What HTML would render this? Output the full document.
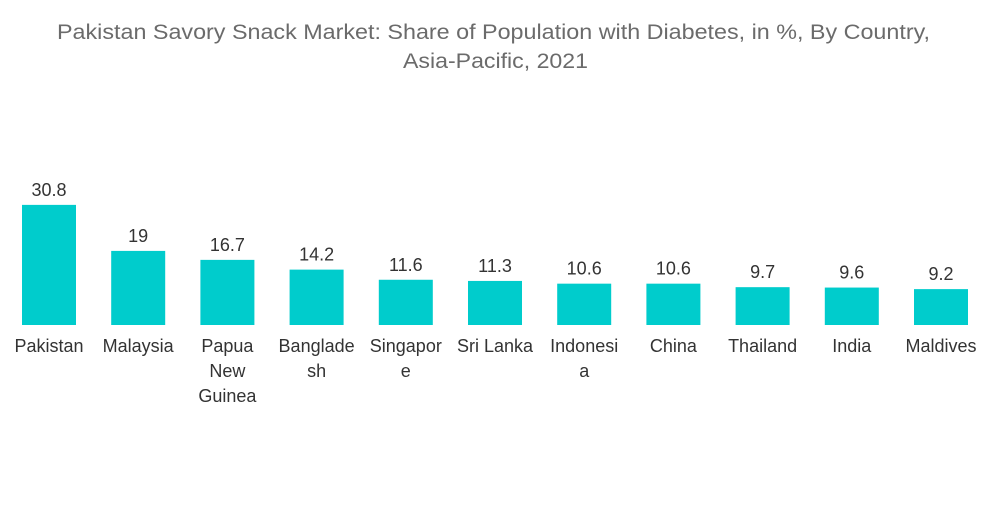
<!DOCTYPE html>
<html><head><meta charset="utf-8"><style>
body{margin:0;background:#fff;width:1000px;height:504px;overflow:hidden;font-family:"Liberation Sans",sans-serif;}
</style></head><body>
<svg width="1000" height="504">
<text x="57" y="39" textLength="873" lengthAdjust="spacingAndGlyphs" font-size="21" fill="#6b6b6b">Pakistan Savory Snack Market: Share of Population with Diabetes, in %, By Country,</text>
<text x="403" y="68" textLength="185" lengthAdjust="spacingAndGlyphs" font-size="21" fill="#6b6b6b">Asia-Pacific, 2021</text>
<g id="bars"></g>
</svg>
<script>
const categories=[["Pakistan"],["Malaysia"],["Papua","New","Guinea"],["Banglade","sh"],["Singapor","e"],["Sri Lanka"],["Indonesi","a"],["China"],["Thailand"],["India"],["Maldives"]];
const values=[30.8,19,16.7,14.2,11.6,11.3,10.6,10.6,9.7,9.6,9.2];
const labels=["30.8","19","16.7","14.2","11.6","11.3","10.6","10.6","9.7","9.6","9.2"];
const ns="http://www.w3.org/2000/svg",g=document.getElementById("bars");
const base=325,scale=3.9,x0=22,step=89.2,bw=54;
const xs=i=>x0+i*step, ys=v=>base-v*scale;
values.forEach((v,i)=>{
const r=document.createElementNS(ns,"rect");
r.setAttribute("x",xs(i));r.setAttribute("y",ys(v));r.setAttribute("width",bw);r.setAttribute("height",base-ys(v));r.setAttribute("fill","#00cccc");


g.appendChild(r);
const t=document.createElementNS(ns,"text");
t.setAttribute("x",xs(i)+bw/2);t.setAttribute("y",ys(v)-9);t.setAttribute("text-anchor","middle");t.setAttribute("font-size","18");t.setAttribute("fill","#333");
t.textContent=labels[i];


g.appendChild(t);
categories[i].forEach((ln,j)=>{
const c=document.createElementNS(ns,"text");
c.setAttribute("x",xs(i)+bw/2);c.setAttribute("y",352+j*25);c.setAttribute("text-anchor","middle");c.setAttribute("font-size","18");c.setAttribute("fill","#333");
c.textContent=ln;


g.appendChild(c);
});
});
</script>
</body></html>
